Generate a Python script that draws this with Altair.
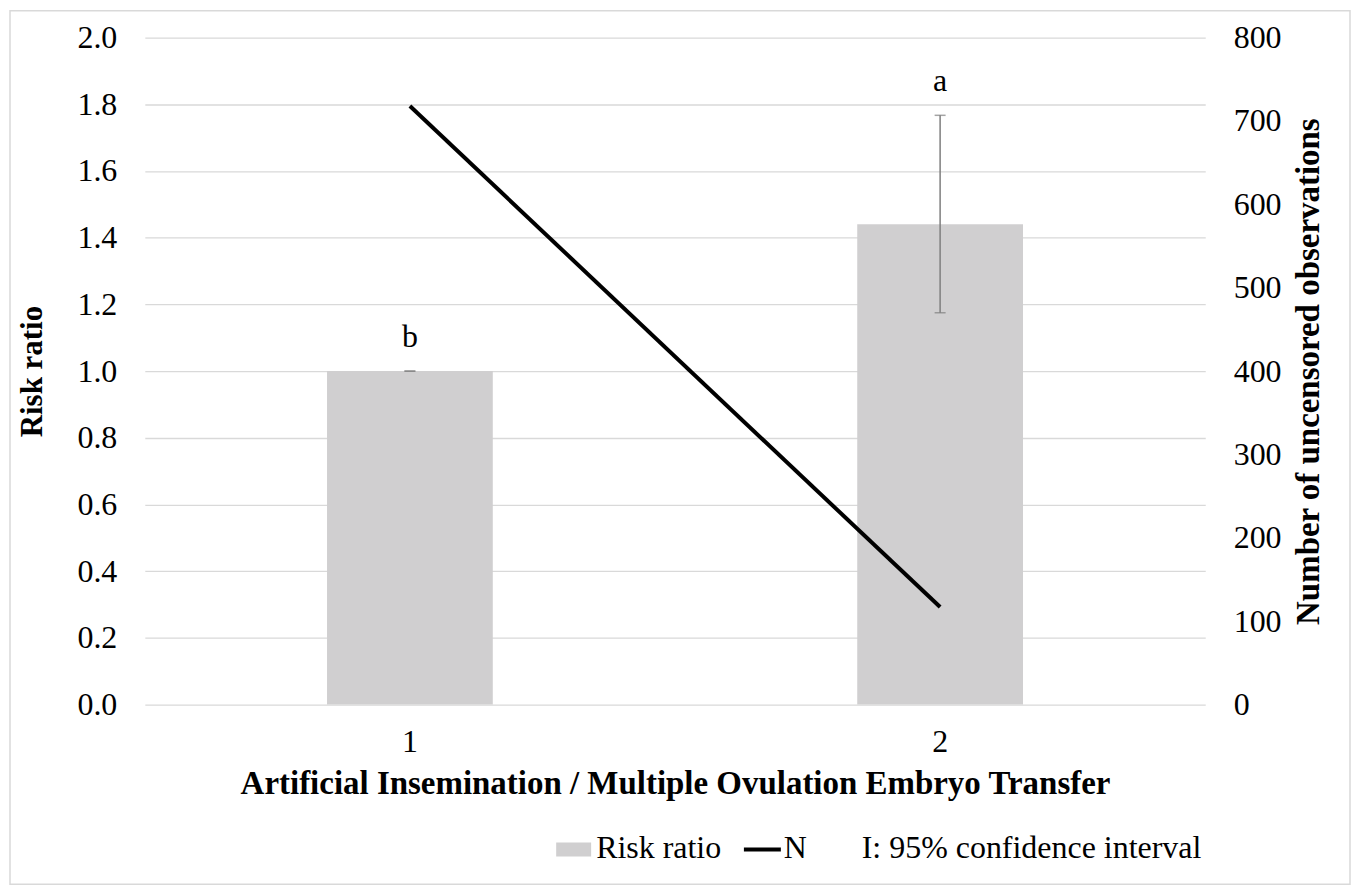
import altair as alt
import pandas as pd

# ---- data ----
categories = ["1", "2"]
risk_ratio = [1.0, 1.44]
ci_low = [1.0, 1.175]
ci_high = [1.0, 1.767]
n_obs = [718, 117]
letters = ["b", "a"]
legend_labels = ["Risk ratio", "N", "I: 95% confidence interval"]

df = pd.DataFrame({
    "cat": categories,
    "rr": risk_ratio,
    "lo": ci_low,
    "hi": ci_high,
    "n": n_obs,
    "letter": letters,
})

FONT = "Liberation Serif"
GRID = "#d9d9d9"
W, H = 1062, 668

x_enc = alt.X(
    "cat:N",
    sort=categories,
    scale=alt.Scale(paddingInner=0, paddingOuter=0),
    axis=alt.Axis(
        title="Artificial Insemination / Multiple Ovulation Embryo Transfer",
        labelAngle=0, labelFont=FONT, labelFontSize=32, labelColor="#000000",
        labelPadding=22, ticks=False, domain=False,
        titleFont=FONT, titleFontSize=33, titleFontWeight="bold",
        titleColor="#000000", titlePadding=10,
    ),
)

base = alt.Chart(df).encode(x=x_enc)

y_left = alt.Y(
    "rr:Q",
    scale=alt.Scale(domain=[0, 2], nice=False, zero=True),
    axis=alt.Axis(
        title="Risk ratio", values=[0, 0.2, 0.4, 0.6, 0.8, 1.0, 1.2, 1.4, 1.6, 1.8, 2.0],
        format=".1f", labelFont=FONT, labelFontSize=32, labelColor="#000000",
        labelPadding=28, ticks=False, domain=False, grid=True,
        gridColor=GRID, gridWidth=1.3,
        titleFont=FONT, titleFontSize=31, titleFontWeight="bold",
        titleColor="#000000", titlePadding=28,
    ),
)

bars = base.mark_bar(size=166, color="#d0cfd0").encode(y=y_left)
err = base.mark_rule(color="#7f7f7f", strokeWidth=1.5).encode(
    y=alt.Y("lo:Q"), y2="hi:Q")
cap_lo = base.mark_tick(color="#7f7f7f", size=11, thickness=1.5).encode(y="lo:Q")
cap_hi = base.mark_tick(color="#7f7f7f", size=11, thickness=1.5).encode(y="hi:Q")
lab = base.mark_text(font=FONT, fontSize=32, dy=-24, baseline="alphabetic",
                     color="#000000").encode(y="hi:Q", text="letter:N")

left_layer = alt.layer(bars, err, cap_lo, cap_hi, lab)

line = base.mark_line(color="#000000", strokeWidth=4).encode(
    y=alt.Y(
        "n:Q",
        scale=alt.Scale(domain=[0, 800], nice=False),
        axis=alt.Axis(
            orient="right", title="Number of uncensored observations",
            values=[0, 100, 200, 300, 400, 500, 600, 700, 800],
            labelFont=FONT, labelFontSize=32, labelColor="#000000",
            labelPadding=28, ticks=False, domain=False, grid=False,
            titleFont=FONT, titleFontSize=33, titleFontWeight="bold",
            titleColor="#000000", titleAngle=270, titlePadding=44,
        ),
    )
)

one = pd.DataFrame({"k": [0]})
frame = alt.Chart(one).mark_rect(fillOpacity=0, stroke="#d9d9d9", strokeWidth=1.5).encode(
    x=alt.value(-135), x2=alt.value(1207), y=alt.value(-27), y2=alt.value(848))

leg_swatch = alt.Chart(one).mark_rect(color="#d0cfd0").encode(
    x=alt.value(412), x2=alt.value(447), y=alt.value(806), y2=alt.value(820))
leg_line = alt.Chart(one).mark_rule(color="#000000", strokeWidth=4).encode(
    x=alt.value(600), x2=alt.value(637), y=alt.value(813))
leg_texts = [
    alt.Chart(one).mark_text(font=FONT, fontSize=32, align="left",
                             baseline="alphabetic", color="#000000").encode(
        x=alt.value(xp), y=alt.value(822), text=alt.value(t))
    for xp, t in zip([452, 640, 718], legend_labels)
]

chart = alt.layer(
    left_layer, line, frame, leg_swatch, leg_line, *leg_texts
).resolve_scale(y="independent").properties(
    width=W, height=H,
    autosize=alt.AutoSizeParams(type="none"),
    padding={"left": 137, "top": 29, "right": 150, "bottom": 185},
    background="#ffffff",
).configure_view(stroke=None)

chart.save("out.html", embed_options={"renderer": "svg", "actions": False})
